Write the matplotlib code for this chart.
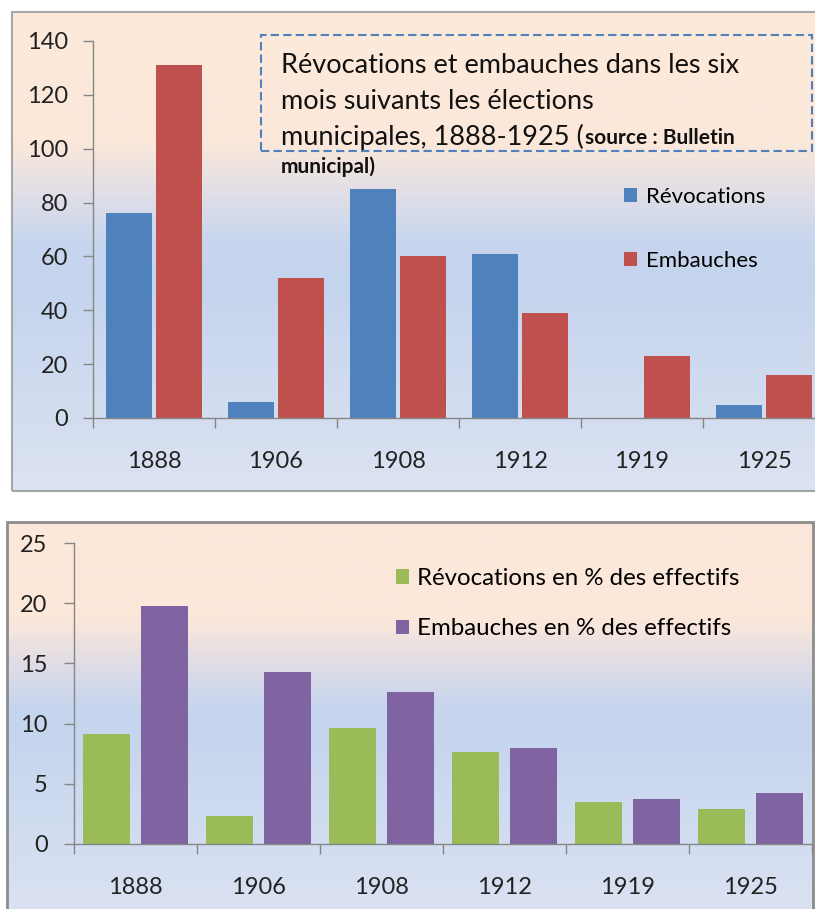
import numpy as np
import matplotlib
matplotlib.use("Agg")
from matplotlib import pyplot as plt
from matplotlib.patches import Rectangle
from matplotlib.ticker import FixedLocator, NullFormatter

W, H = 815, 909

annees = ['1888', '1906', '1908', '1912', '1919', '1925']
revocations = [76, 6, 85, 61, 0, 5]
embauches = [131, 52, 60, 39, 23, 16]
revoc_pct = [9.1, 2.3, 9.6, 7.6, 3.5, 2.9]
embau_pct = [19.8, 14.3, 12.6, 8.0, 3.7, 4.2]

BLEU = '#4F81BD'
ROUGE = '#C0504D'
VERT = '#9BBB59'
VIOLET = '#8064A2'
GRIS = '#868686'

plt.rcParams['font.family'] = ['Lato', 'DejaVu Sans']


def fx(x):
    return x / W


def fy(y):
    return 1 - y / H


def hex2rgb(h):
    h = h.lstrip('#')
    return [int(h[i:i + 2], 16) / 255 for i in (0, 2, 4)]


def fond_degrade(fig, x0, y0, x1, y1, stops):
    # stops = [(position 0..1 du haut vers le bas, couleur)]
    ax = fig.add_axes([fx(x0), fy(y1), (x1 - x0) / W, (y1 - y0) / H], zorder=0)
    ax.set_axis_off()
    t = np.linspace(0, 1, 400)
    pos = [s[0] for s in stops]
    cols = np.array([hex2rgb(s[1]) for s in stops])
    img = np.stack([np.interp(t, pos, cols[:, k]) for k in range(3)], axis=-1)
    ax.imshow(img[:, None, :], aspect='auto', extent=(0, 1, 0, 1))
    return ax


def style_axes(ax, ypad):
    for s in ['top', 'right']:
        ax.spines[s].set_visible(False)
    for s in ['left', 'bottom']:
        ax.spines[s].set_color(GRIS)
        ax.spines[s].set_linewidth(1)
    ax.tick_params(axis='y', length=7, width=1, color=GRIS, pad=ypad,
                   labelsize=17, labelcolor='#222222')
    ax.tick_params(axis='x', which='major', length=0, pad=24,
                   labelsize=17, labelcolor='#222222')
    ax.tick_params(axis='x', which='minor', length=7, width=1, color=GRIS)
    ax.set_facecolor('none')


fig = plt.figure(figsize=(W / 100, H / 100), dpi=100)

# ---------- panneau du haut ----------
fond_degrade(fig, 12, 12, 815, 491, [
    (0.0, '#FDEADA'), (0.27, '#FBE8DA'), (0.37, '#E3DFE6'),
    (0.48, '#C7D6EE'), (0.58, '#C5D4ED'), (1.0, '#DCE3F2')])
fig.patches.append(Rectangle((fx(12), fy(491)), (830 - 12) / W, (491 - 12) / H,
                             transform=fig.transFigure, fill=False,
                             edgecolor='#A6A6A6', lw=1.5, zorder=0.5))

ax1 = fig.add_axes([fx(93), fy(418), (815 - 93) / W, (418 - 41) / H], zorder=1)
x = np.arange(len(annees))
larg1, dec1 = 0.385, 0.205
b1 = ax1.bar(x - dec1, revocations, larg1, color=BLEU, label='Révocations')
b2 = ax1.bar(x + dec1, embauches, larg1, color=ROUGE, label='Embauches')
ax1.set_xlim(-0.5, -0.5 + (815 - 93) / 122)
ax1.set_ylim(0, 140)
ax1.set_yticks(range(0, 141, 20))
ax1.set_xticks(x)
ax1.set_xticklabels(annees)
ax1.xaxis.set_minor_locator(FixedLocator(np.arange(-0.5, 6, 1)))
ax1.xaxis.set_minor_formatter(NullFormatter())
style_axes(ax1, 11)

ax1.legend(handles=[b1, b2], loc='upper left', frameon=False,
           bbox_to_anchor=(fx(624), fy(187)), bbox_transform=fig.transFigure,
           borderpad=0, borderaxespad=0, fontsize=16, handlelength=0.58,
           handleheight=0.6, handletextpad=0.4, labelspacing=1.97)

# titre dans le cadre pointille
fig.patches.append(Rectangle((fx(261), fy(151)), (812 - 261) / W, (151 - 35) / H,
                             transform=fig.transFigure, fill=False,
                             edgecolor=BLEU, lw=1.5, ls=(0, (4, 2)), zorder=2))
fig.text(fx(281), fy(73), 'Révocations et embauches dans les six',
         fontsize=19.5, va='baseline', color='#111111')
fig.text(fx(281), fy(109), 'mois suivants les élections',
         fontsize=19.5, va='baseline', color='#111111')
t3 = fig.text(fx(281), fy(145), 'municipales, 1888-1925 (',
              fontsize=19.5, va='baseline', color='#111111')
ax1.annotate('source : Bulletin', xy=(1, 0), xycoords=t3, xytext=(1, 1.5),
             textcoords='offset points', ha='left', va='bottom',
             fontsize=15, fontweight='bold', color='#111111',
             annotation_clip=False)
fig.text(fx(281), fy(173), 'municipal)', fontsize=15, fontweight='bold',
         va='baseline', color='#111111')

# ---------- panneau du bas ----------
fond_degrade(fig, 7, 522, 813, 909, [
    (0.0, '#FDE9DA'), (0.25, '#FCE8DA'), (0.36, '#E1DDE6'),
    (0.48, '#C6D5EE'), (0.58, '#C7D6EE'), (1.0, '#DAE2F2')])
fig.patches.append(Rectangle((fx(7), fy(925)), (813 - 7) / W, (925 - 522) / H,
                             transform=fig.transFigure, fill=False,
                             edgecolor='#8C8C8C', lw=2, zorder=0.5))

ax2 = fig.add_axes([fx(74), fy(844), (812 - 74) / W, (844 - 543) / H], zorder=1)
larg2, dec2 = 0.38, 0.235
b3 = ax2.bar(x - dec2, revoc_pct, larg2, color=VERT,
             label='Révocations en % des effectifs')
b4 = ax2.bar(x + dec2, embau_pct, larg2, color=VIOLET,
             label='Embauches en % des effectifs')
ax2.set_xlim(-0.5, 5.5)
ax2.set_ylim(0, 25)
ax2.set_yticks(range(0, 26, 5))
ax2.set_xticks(x)
ax2.set_xticklabels(annees)
ax2.xaxis.set_minor_locator(FixedLocator(np.arange(-0.5, 6, 1)))
ax2.xaxis.set_minor_formatter(NullFormatter())
style_axes(ax2, 12)

ax2.legend(handles=[b3, b4], loc='upper left', frameon=False,
           bbox_to_anchor=(fx(396), fy(568)), bbox_transform=fig.transFigure,
           borderpad=0, borderaxespad=0, fontsize=17.3, handlelength=0.55,
           handleheight=0.55, handletextpad=0.33, labelspacing=1.22)

fig.savefig('out.png', dpi=100)
